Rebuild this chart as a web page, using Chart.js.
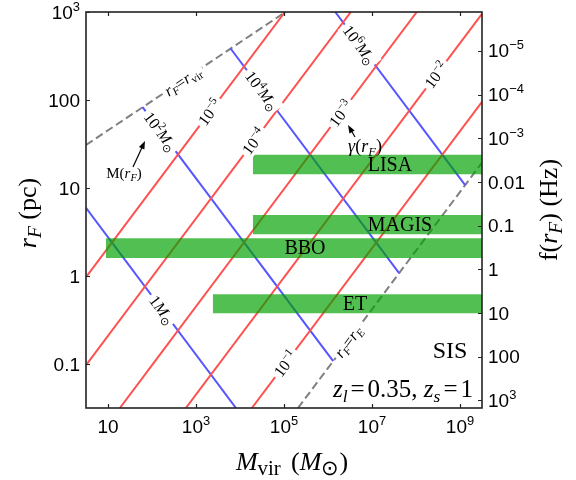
<!DOCTYPE html>
<html>
<head>
<meta charset="utf-8">
<title>SIS lens: Fresnel scale vs virial mass</title>
<script src="https://cdn.jsdelivr.net/npm/chart.js@4.4.0/dist/chart.umd.min.js"></script>
<style>
  html, body { margin: 0; padding: 0; background: #fff; }
  #wrap { width: 576px; height: 480px; }
</style>
</head>
<body>
<div id="wrap"><canvas id="grafico" width="576" height="480"></canvas></div>
<script>
// tick values of the three axes
const massTicks = [10, 1e3, 1e5, 1e7, 1e9];
const radiusTicks = [0.1, 1, 10, 100, 1000];
const freqTicks = [1e-5, 1e-4, 1e-3, 0.01, 0.1, 1, 10, 100, 1e3];

// lines of constant gamma(r_F): end points (M_vir, r_F)
const gammaExp = ['\u22125', '\u22124', '\u22123', '\u22122', '\u22121'];
const gammaM0 = [3.16, 3.16, 18.6, 588, 1.86e4];
const gammaR0 = [0.97, 0.097, 0.0316, 0.0316, 0.0316];
const gammaM1 = [1.05e5, 3.3e6, 1.04e8, 3.16e9, 3.16e9];
const gammaR1 = [1000, 1000, 1000, 950, 95];
const gammaLabelAt = [2.05e3, 2.05e4, 1.95e6, 2.88e8, 1.07e5];

// lines of constant M(r_F)
const massExp = ['', '2', '4', '6'];
const mrM0 = [3.16, 61, 6.1e3, 1.46e6];
const mrR0 = [5.95, 82.8, 385, 1000];
const mrM1 = [8.1e3, 1.31e6, 4.13e7, 1.31e9];
const mrR1 = [0.0316, 0.108, 1.08, 10.8];
const mrLabelAt = [169, 157, 3.15e4, 5.25e6];

// r_F = r_vir and r_F = r_E
const rvirM = [3.16, 1.08e5];
const rvirR = [30.8, 1000];
const rEM = [2.08e5, 3.16e9];
const rER = [0.0316, 19.4];

// detector bands (frequency in Hz)
const bandNames = ['LISA', 'MAGIS', 'BBO', 'ET'];
const bandFLow = [2.4e-3, 0.057, 0.195, 3.7];
const bandFHigh = [6.7e-3, 0.158, 0.55, 10.2];
const bandMStart = [1.95e4, 1.95e4, 9, 2.4e3];
const bandMEnd = [3.16e9, 3.16e9, 3.16e9, 3.16e9];
const bandLabelAt = [2.56e7, 4.33e7, 3.0e5, 4.11e6];

const RED = 'rgb(255,80,80)';
const BLUE = 'rgb(85,85,255)';
const GREY = 'rgb(128,128,128)';
const SERIF = '"Liberation Serif", "Times New Roman", serif';
const SANS = '"Liberation Sans", Arial, sans-serif';

function seg(m0, r0, m1, r1) {
    return [{x: m0, y: r0}, {x: m1, y: r1}];
}

let datasets = [];
bandNames.forEach(function(n, i){
    datasets.push({
        label: n, yAxisID: 'yF', order: 0, showLine: true,
        data: seg(bandMStart[i], bandFLow[i], bandMEnd[i], bandFLow[i]),
        borderColor: 'rgba(0,0,0,0)', borderWidth: 0,
        backgroundColor: 'rgba(0,160,0,0.68)', fill: '+1'
    });
    datasets.push({
        label: n + ' edge', yAxisID: 'yF', order: 0, showLine: true,
        data: seg(bandMStart[i], bandFHigh[i], bandMEnd[i], bandFHigh[i]),
        borderColor: 'rgba(0,0,0,0)', borderWidth: 0, fill: false
    });
});
gammaExp.forEach(function(e, i){
    datasets.push({
        label: 'gamma 1e' + e, order: 1, showLine: true,
        data: seg(gammaM0[i], gammaR0[i], gammaM1[i], gammaR1[i]),
        borderColor: RED, borderWidth: 2, fill: false
    });
});
massExp.forEach(function(e, i){
    datasets.push({
        label: 'M 1e' + (e || '0'), order: 1, showLine: true,
        data: seg(mrM0[i], mrR0[i], mrM1[i], mrR1[i]),
        borderColor: BLUE, borderWidth: 2, fill: false
    });
});
datasets.push({
    label: 'r_vir', order: 1, showLine: true,
    data: seg(rvirM[0], rvirR[0], rvirM[1], rvirR[1]),
    borderColor: GREY, borderWidth: 2, borderDash: [8, 4], fill: false
});
datasets.push({
    label: 'r_E', order: 1, showLine: true,
    data: seg(rEM[0], rER[0], rEM[1], rER[1]),
    borderColor: GREY, borderWidth: 2, borderDash: [8, 4], fill: false
});

// text with italics, sub- and superscripts; numbers in parts are gaps in em
function rich(ctx, parts, x, y, size, o){
    o = o || {};
    let fam = o.font || SERIF;
    let items = [];
    let w = 0;
    parts.forEach(function(p){
        if (typeof p === 'number') { items.push({gap: p * size}); w += p * size; return; }
        let t = p[0], f = p[1] || '';
        let small = f.indexOf('_') >= 0 || f.indexOf('^') >= 0;
        let s = small ? size * (o.scale || 0.7) : size;
        let font = (f.indexOf('i') >= 0 ? 'italic ' : '') + s + 'px ' + fam;
        ctx.font = font;
        let tw = ctx.measureText(t).width;
        let dy = f.indexOf('_') >= 0 ? size * 0.2 : (f.indexOf('^') >= 0 ? -size * (o.raise || 0.4) : 0);
        items.push({t: t, font: font, tw: tw, dy: dy});
        w += tw;
    });
    ctx.save();
    ctx.translate(x, y);
    ctx.rotate((o.angle || 0) * Math.PI / 180);
    let align = o.align || 'center';
    let cx = align == 'center' ? -w / 2 : (align == 'right' ? -w : 0);
    if (o.box) {
        ctx.fillStyle = '#fff';
        ctx.fillRect(cx - o.box, -size * 0.55, w + 2 * o.box, size * 1.1);
    }
    ctx.fillStyle = o.color || '#000';
    ctx.textAlign = 'left';
    ctx.textBaseline = 'alphabetic';
    items.forEach(function(it){
        if (it.gap !== undefined) { cx += it.gap; return; }
        ctx.font = it.font;
        ctx.fillText(it.t, cx, size * 0.35 + it.dy);
        cx += it.tw;
    });
    ctx.restore();
}

function arrow(ctx, x0, y0, x1, y1){
    let a = Math.atan2(y1 - y0, x1 - x0);
    ctx.save();
    ctx.strokeStyle = '#000';
    ctx.fillStyle = '#000';
    ctx.lineWidth = 1.2;
    ctx.beginPath();
    ctx.moveTo(x0, y0);
    ctx.lineTo(x1 - 5 * Math.cos(a), y1 - 5 * Math.sin(a));
    ctx.stroke();
    ctx.beginPath();
    ctx.moveTo(x1, y1);
    ctx.lineTo(x1 - 8 * Math.cos(a) + 3 * Math.sin(a), y1 - 8 * Math.sin(a) - 3 * Math.cos(a));
    ctx.lineTo(x1 - 8 * Math.cos(a) - 3 * Math.sin(a), y1 - 8 * Math.sin(a) + 3 * Math.cos(a));
    ctx.closePath();
    ctx.fill();
    ctx.restore();
}

function powLabel(v){
    let e = Math.round(Math.log10(v));
    if (e >= 3 || e <= -3) return [['10', ''], [(e < 0 ? '\u2212' : '') + Math.abs(e), '^']];
    return [[String(v), '']];
}

const decor = {
    id: 'decor',
    afterDraw: function(chart){
        let ctx = chart.ctx;
        let sx = chart.scales.x, sy = chart.scales.y, sf = chart.scales.yF;
        let a = chart.chartArea;
        let px = function(m){ return sx.getPixelForValue(m); };
        let py = function(r){ return sy.getPixelForValue(r); };

        // label sitting on a straight log-log line, with a gap cut in the line
        function lineLabel(m0, r0, m1, r1, at, parts, size){
            let t = (Math.log10(at) - Math.log10(m0)) / (Math.log10(m1) - Math.log10(m0));
            let r = Math.pow(10, Math.log10(r0) + t * (Math.log10(r1) - Math.log10(r0)));
            let ang = Math.atan2(py(r1) - py(r0), px(m1) - px(m0)) * 180 / Math.PI;
            rich(ctx, parts, px(at), py(r), size, {angle: ang, box: 3});
        }

        gammaExp.forEach(function(e, i){
            lineLabel(gammaM0[i], gammaR0[i], gammaM1[i], gammaR1[i], gammaLabelAt[i],
                [['10', ''], [e, '^']], 16);
        });
        massExp.forEach(function(e, i){
            let parts = e ? [['10', ''], [e, '^'], ['M', 'i'], ['\u2299', '_']] : [['1', ''], ['M', 'i'], ['\u2299', '_']];
            lineLabel(mrM0[i], mrR0[i], mrM1[i], mrR1[i], mrLabelAt[i], parts, 16);
        });
        lineLabel(rvirM[0], rvirR[0], rvirM[1], rvirR[1], 493,
            [['r', 'i'], ['F', 'i_'], ['=', ''], ['r', 'i'], ['vir', '_']], 16);
        lineLabel(rEM[0], rER[0], rEM[1], rER[1], 2.85e6,
            [['r', 'i'], ['F', 'i_'], ['=', ''], ['r', 'i'], ['E', 'i_']], 16);

        // detector names
        bandNames.forEach(function(n, i){
            let fc = Math.sqrt(bandFLow[i] * bandFHigh[i]);
            rich(ctx, [[n, '']], px(bandLabelAt[i]), sf.getPixelForValue(fc) - 1, 20);
        });

        // arrows and notes
        arrow(ctx, px(37), py(17.3), px(69.3), py(34.2));
        rich(ctx, [['M(', ''], ['r', 'i'], ['F', 'i_'], [')', '']], px(23.1), py(14.8), 15);
        arrow(ctx, px(4.11e6), py(38), px(2.85e6), py(52));
        rich(ctx, [['\u03b3', 'i'], ['(', ''], ['r', 'i'], ['F', 'i_'], [')', '']], px(6.93e6), py(30), 18);
        rich(ctx, [['SIS', '']], px(5.93e8), py(0.144), 24);
        rich(ctx, [['z', 'i'], ['l', 'i_'], 0.12, ['=', ''], 0.12, ['0.35', ''], [', ', ''],
            ['z', 'i'], ['s', 'i_'], 0.12, ['=', ''], 0.12, ['1', '']],
            a.right - 9, py(0.0533), 25, {align: 'right'});

        // frame and inward ticks
        ctx.save();
        ctx.strokeStyle = '#222';
        ctx.lineWidth = 1.6;
        ctx.strokeRect(a.left, a.top, a.right - a.left, a.bottom - a.top);
        ctx.lineWidth = 1.2;
        ctx.beginPath();
        massTicks.forEach(function(m){
            let x = Math.round(px(m)) + 0.5;
            ctx.moveTo(x, a.bottom); ctx.lineTo(x, a.bottom - 4);
            ctx.moveTo(x, a.top); ctx.lineTo(x, a.top + 4);
        });
        radiusTicks.forEach(function(r){
            let y = Math.round(py(r)) + 0.5;
            ctx.moveTo(a.left, y); ctx.lineTo(a.left + 4, y);
        });
        freqTicks.forEach(function(f){
            let y = Math.round(sf.getPixelForValue(f)) + 0.5;
            ctx.moveTo(a.right, y); ctx.lineTo(a.right - 4, y);
        });
        ctx.stroke();
        ctx.restore();

        // tick labels
        let ts = 19;
        massTicks.forEach(function(m){
            rich(ctx, powLabel(m), px(m), a.bottom + 18, ts, {font: SANS, scale: 0.68, raise: 0.42});
        });
        radiusTicks.forEach(function(r){
            rich(ctx, powLabel(r), a.left - 6, py(r), ts, {font: SANS, align: 'right', scale: 0.68, raise: 0.42});
        });
        freqTicks.forEach(function(f){
            rich(ctx, powLabel(f), a.right + 6, sf.getPixelForValue(f), ts, {font: SANS, align: 'left', scale: 0.68, raise: 0.42});
        });

        // axis titles
        rich(ctx, [['r', 'i'], ['F', 'i_'], 0.25, ['(pc)', '']], 27, 213, 26, {angle: -90, scale: 0.75});
        rich(ctx, [['M', 'i'], ['vir', '_'], 0.4, ['(', ''], ['M', 'i'], ['\u2299', '_'], [')', '']], 292, 461, 26, {scale: 0.8});
        rich(ctx, [['f(', ''], ['r', 'i'], ['F', 'i_'], [')', ''], 0.25, ['(Hz)', '']], 548, 210, 26, {angle: -90, scale: 0.75});
    }
};

let grafico = new Chart(document.getElementById('grafico').getContext('2d'), {
    type: 'scatter',
    data: {datasets: datasets},
    options: {
        responsive: false,
        animation: false,
        events: [],
        layout: {padding: {left: 86, top: 12, right: 94, bottom: 72}},
        elements: {point: {radius: 0, hoverRadius: 0}, line: {tension: 0}},
        plugins: {legend: {display: false}, tooltip: {enabled: false}},
        scales: {
            x: {type: 'logarithmic', min: Math.pow(10, 0.5), max: Math.pow(10, 9.5), display: false},
            y: {type: 'logarithmic', min: Math.pow(10, -1.5), max: 1000, display: false},
            yF: {type: 'logarithmic', min: Math.pow(10, -5.888), max: Math.pow(10, 3.174), reverse: true, display: false}
        }
    },
    plugins: [decor]
});
</script>
</body>
</html>
